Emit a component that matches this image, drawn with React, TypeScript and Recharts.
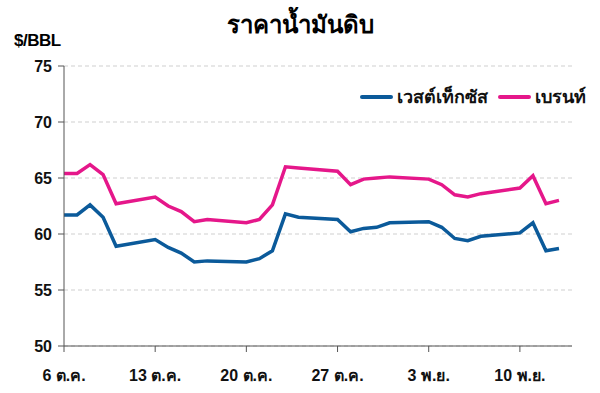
import { LineChart, Line, XAxis, YAxis, CartesianGrid } from "recharts";

// days counted from 6 Oct (weekends skipped)
const days = [0, 1, 2, 3, 4, 7, 8, 9, 10, 11, 14, 15, 16, 17, 18, 21, 22, 23, 24, 25, 28, 29, 30, 31, 32, 35, 36, 37, 38];
const wti = [61.7, 61.7, 62.6, 61.5, 58.9, 59.5, 58.8, 58.3, 57.5, 57.6, 57.5, 57.8, 58.5, 61.8, 61.5, 61.3, 60.2, 60.5, 60.6, 61.0, 61.1, 60.6, 59.6, 59.4, 59.8, 60.1, 61.0, 58.5, 58.7];
const brent = [65.4, 65.4, 66.2, 65.3, 62.7, 63.3, 62.5, 62.0, 61.1, 61.3, 61.0, 61.3, 62.6, 66.0, 65.9, 65.6, 64.4, 64.9, 65.0, 65.1, 64.9, 64.4, 63.5, 63.3, 63.6, 64.1, 65.2, 62.7, 63.0];
const xTicks = [0, 7, 14, 21, 28, 35];
const xLabels = ["6 ต.ค.", "13 ต.ค.", "20 ต.ค.", "27 ต.ค.", "3 พ.ย.", "10 พ.ย."];
const yTicks = [50, 55, 60, 65, 70, 75];

const data = days.map((d, i) => ({ day: d, wti: wti[i], brent: brent[i] }));

const font = "'Liberation Sans', 'Noto Sans', 'DejaVu Sans', sans-serif";
const WTI_COLOR = "#0b5a9a";
const BRENT_COLOR = "#e5178a";

const LegendItem = ({ color, label }: { color: string; label: string }) => (
  <span style={{ display: "inline-flex", alignItems: "center", marginLeft: 10 }}>
    <span style={{ display: "inline-block", width: 33, height: 4, background: color, borderRadius: 2, marginRight: 4 }} />
    {label}
  </span>
);

export default function App() {
  return (
    <div style={{ position: "absolute", left: 0, top: 0, width: 600, height: 393, fontFamily: font }}>
      <div style={{ position: "absolute", top: 5, width: 600, textAlign: "center", fontSize: 24, fontWeight: 600 }}>
        ราคาน้ำมันดิบ
      </div>
      <div style={{ position: "absolute", top: 31, left: 14, fontSize: 17, fontWeight: 700, letterSpacing: -0.5 }}>
        $/BBL
      </div>
      <div style={{ position: "absolute", top: 82, right: 14, fontSize: 18, fontWeight: 600, color: "#111", whiteSpace: "nowrap" }}>
        <LegendItem color={WTI_COLOR} label="เวสต์เท็กซัส" />
        <LegendItem color={BRENT_COLOR} label="เบรนท์" />
      </div>
      <LineChart
        width={600}
        height={393}
        data={data}
        margin={{ top: 66, right: 28, bottom: 0, left: 0 }}
      >
        <CartesianGrid vertical={false} stroke="#cfcfcf" strokeDasharray="4 3" />
        <XAxis
          dataKey="day"
          type="number"
          domain={[0, 39]}
          ticks={xTicks}
          tickFormatter={(v: number) => xLabels[xTicks.indexOf(v)]}
          height={47}
          stroke="#555"
          tickSize={6}
          tick={{ fill: "#111", fontSize: 16, fontWeight: 600, dy: 16 }}
        />
        <YAxis
          domain={[50, 75]}
          ticks={yTicks}
          width={64}
          stroke="#555"
          tickSize={6}
          tick={{ fill: "#111", fontSize: 16, fontWeight: 600, dx: -4 }}
        />
        <Line
          dataKey="wti"
          name="เวสต์เท็กซัส"
          stroke={WTI_COLOR}
          strokeWidth={3.5}
          dot={false}
          isAnimationActive={false}
        />
        <Line
          dataKey="brent"
          name="เบรนท์"
          stroke={BRENT_COLOR}
          strokeWidth={3.5}
          dot={false}
          isAnimationActive={false}
        />
      </LineChart>
    </div>
  );
}
